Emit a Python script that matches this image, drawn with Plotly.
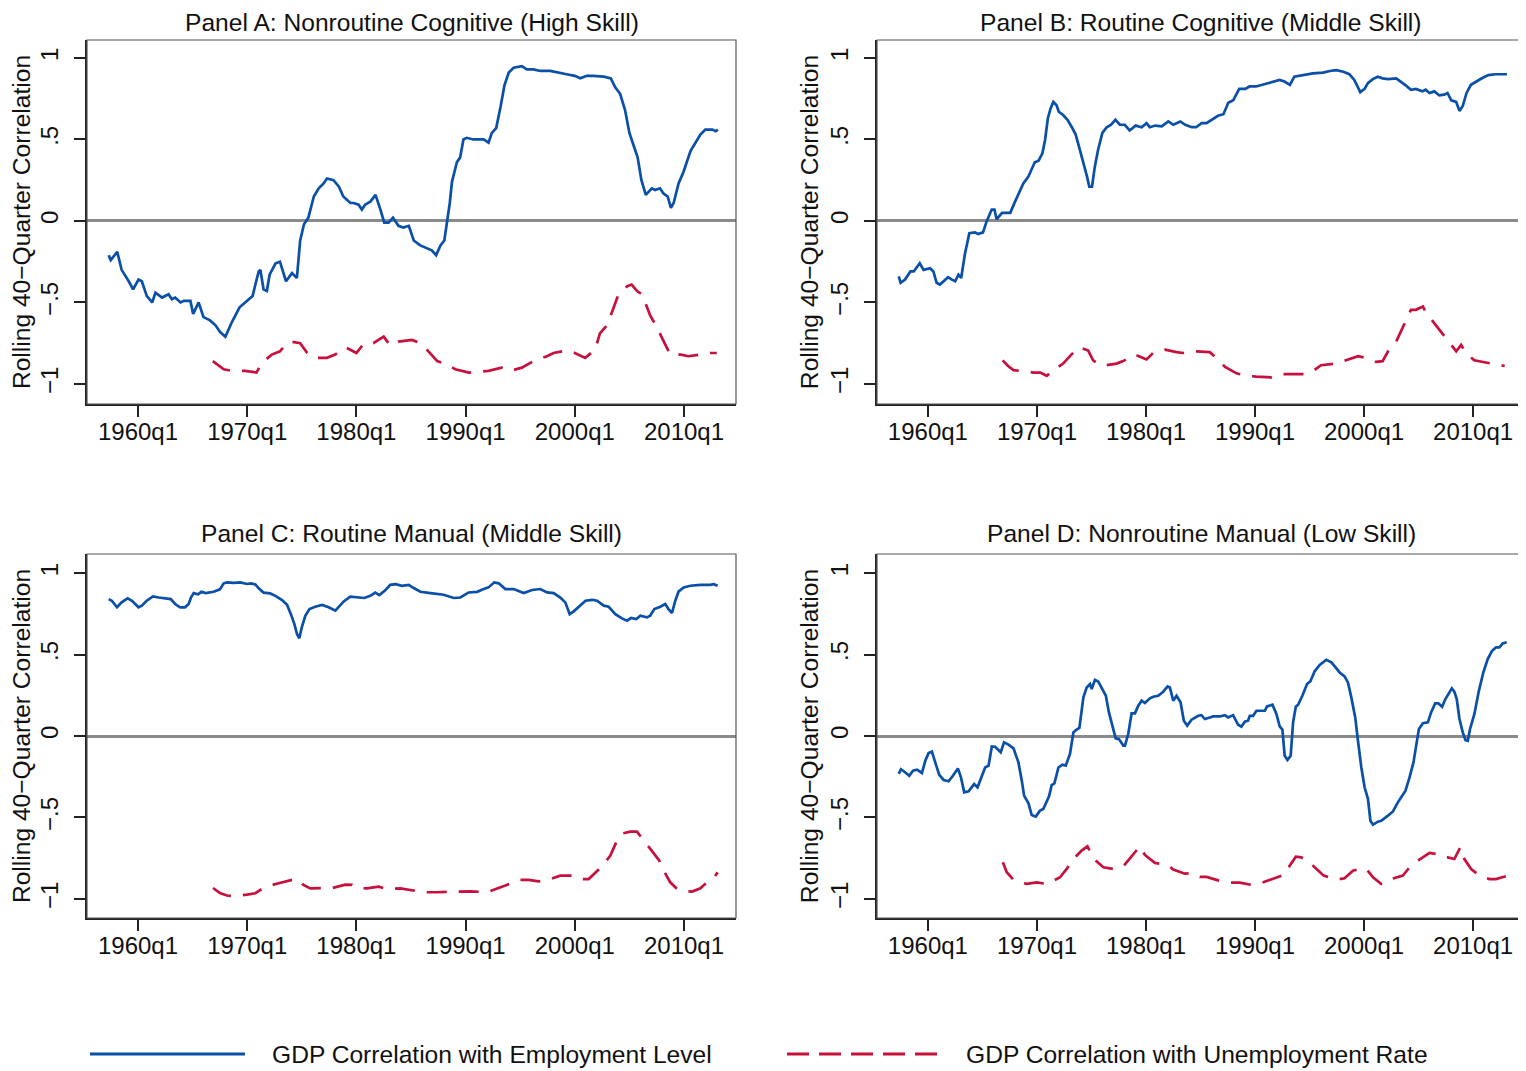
import plotly.graph_objects as go

FONT = "Liberation Sans, Arial, Helvetica, sans-serif"
BLUE = "#0a4fa8"
RED = "#c8103c"
# the page body has an 8px margin, so the figure is 8px smaller than the window
PAD = 8
W, H = 1526 - PAD, 1071 - PAD

TICK_YEARS = [1960, 1970, 1980, 1990, 2000, 2010]
TICK_TEXT = ["1960q1", "1970q1", "1980q1", "1990q1", "2000q1", "2010q1"]
Y_TICKS = [-1, -0.5, 0, 0.5, 1]
Y_TEXT = ["\u22121", "\u2212.5", "0", ".5", "1"]

TITLES = [
    "Panel A: Nonroutine Cognitive (High Skill)",
    "Panel B: Routine Cognitive (Middle Skill)",
    "Panel C: Routine Manual (Middle Skill)",
    "Panel D: Nonroutine Manual (Low Skill)",
]
LEGEND_NAMES = ["GDP Correlation with Employment Level",
                "GDP Correlation with Unemployment Rate"]

# Panel A - employment level
a_emp_t = [1957.32, 1957.5, 1958.1, 1958.5, 1959.15, 1959.55, 1960.05, 1960.35, 1960.8, 1961.3,
           1961.6, 1962.2, 1962.8, 1963.1, 1963.4, 1963.9, 1964.2, 1964.8, 1965.05, 1965.55,
           1966.0, 1966.6, 1967.1, 1967.5, 1968.0, 1968.6, 1969.3, 1969.8, 1970.5, 1970.75,
           1971.05, 1971.2, 1971.5, 1971.8, 1972.05, 1972.6, 1973.0, 1973.55, 1974.1, 1974.55,
           1974.85, 1975.2, 1975.6, 1976.1, 1976.55, 1977.0, 1977.3, 1977.9, 1978.4, 1978.8,
           1979.45, 1979.75, 1980.2, 1980.5, 1980.8, 1981.3, 1981.75, 1982.2, 1982.55, 1982.95,
           1983.35, 1983.85, 1984.3, 1984.8, 1985.25, 1985.85, 1986.45, 1986.9, 1987.3, 1987.7,
           1988.05, 1988.3, 1988.55, 1988.75, 1989.2, 1989.5, 1989.8, 1990.1, 1990.7, 1991.65,
           1992.1, 1992.4, 1992.8, 1993.2, 1993.55, 1993.95, 1994.4, 1995.15, 1995.6, 1996.2,
           1996.85, 1997.75, 1998.65, 1999.25, 2000.0, 2000.5, 2001.1, 2001.7, 2002.65, 2003.3,
           2003.7, 2004.15, 2004.6, 2005.0, 2005.4, 2005.75, 2006.1, 2006.5, 2007.05, 2007.35,
           2007.8, 2008.1, 2008.5, 2008.8, 2009.05, 2009.5, 2009.95, 2010.6, 2011.05, 2011.5,
           2011.95, 2012.6, 2012.9, 2013.1]
a_emp_v = [-0.21, -0.24, -0.19, -0.30, -0.37, -0.42, -0.36, -0.37, -0.46, -0.50,
           -0.44, -0.47, -0.45, -0.48, -0.47, -0.50, -0.49, -0.49, -0.57, -0.50,
           -0.59, -0.61, -0.64, -0.68, -0.71, -0.62, -0.53, -0.50, -0.46, -0.39,
           -0.31, -0.30, -0.42, -0.43, -0.33, -0.26, -0.25, -0.37, -0.32, -0.35,
           -0.12, -0.02, 0.02, 0.15, 0.20, 0.23, 0.26, 0.25, 0.21, 0.15,
           0.11, 0.11, 0.10, 0.07, 0.10, 0.12, 0.16, 0.07, -0.01, -0.01,
           0.02, -0.03, -0.04, -0.03, -0.12, -0.15, -0.17, -0.18, -0.21, -0.15,
           -0.12, -0.01, 0.11, 0.24, 0.36, 0.39, 0.50, 0.51, 0.50, 0.50,
           0.48, 0.54, 0.57, 0.70, 0.83, 0.91, 0.94, 0.95, 0.93, 0.93,
           0.92, 0.92, 0.91, 0.90, 0.89, 0.875, 0.89, 0.89, 0.885, 0.875,
           0.82, 0.78, 0.68, 0.54, 0.46, 0.39, 0.25, 0.16, 0.20, 0.19,
           0.20, 0.17, 0.15, 0.08, 0.11, 0.23, 0.30, 0.43, 0.48, 0.53,
           0.56, 0.56, 0.55, 0.56]

# Panel A - unemployment rate
a_unemp_t = [1966.85, 1967.85, 1968.6, 1969.8, 1970.85, 1971.35, 1972.25, 1973.0, 1973.5, 1973.95,
             1974.85, 1975.5, 1976.25, 1977.3, 1978.05, 1979.0, 1980.0, 1980.65, 1981.55, 1982.5,
             1983.1, 1983.85, 1985.1, 1985.85, 1986.6, 1987.4, 1988.3, 1989.05, 1990.3, 1992.1,
             1993.3, 1994.1, 1995.15, 1996.2, 1997.45, 1998.05, 1999.3, 2000.0, 2000.95, 2001.85,
             2002.3, 2002.95, 2003.4, 2004.0, 2004.8, 2005.2, 2005.7, 2006.15, 2006.9, 2007.5,
             2008.15, 2008.75, 2009.7, 2010.4, 2011.5, 2012.4, 2013.0]
a_unemp_v = [-0.86, -0.91, -0.92, -0.92, -0.93, -0.87, -0.82, -0.80, -0.76, -0.74,
             -0.75, -0.81, -0.84, -0.84, -0.82, -0.775, -0.81, -0.755, -0.75, -0.71,
             -0.765, -0.74, -0.73, -0.75, -0.80, -0.86, -0.88, -0.91, -0.93, -0.92,
             -0.90, -0.92, -0.90, -0.86, -0.83, -0.81, -0.795, -0.81, -0.84, -0.79,
             -0.69, -0.64, -0.56, -0.45, -0.40, -0.39, -0.43, -0.45, -0.58, -0.65,
             -0.74, -0.82, -0.82, -0.83, -0.82, -0.81, -0.81]

# Panel B - employment level
b_emp_t = [1957.32, 1957.5, 1957.9, 1958.4, 1958.7, 1959.25, 1959.6, 1960.2, 1960.5, 1960.8,
           1961.1, 1961.4, 1961.85, 1962.2, 1962.5, 1962.8, 1963.05, 1963.4, 1963.8, 1964.3,
           1964.6, 1965.05, 1965.4, 1965.85, 1966.1, 1966.3, 1966.8, 1967.25, 1967.55, 1968.0,
           1968.45, 1968.75, 1969.2, 1969.5, 1969.8, 1970.15, 1970.5, 1970.75, 1971.0, 1971.25,
           1971.5, 1971.8, 1972.0, 1972.4, 1972.8, 1973.2, 1973.55, 1973.8, 1974.1, 1974.4,
           1974.6, 1974.8, 1975.05, 1975.3, 1975.6, 1976.0, 1976.4, 1976.8, 1977.2, 1977.6,
           1978.05, 1978.5, 1979.05, 1979.6, 1980.05, 1980.35, 1980.85, 1981.45, 1982.05, 1982.5,
           1983.15, 1983.6, 1984.2, 1984.6, 1985.1, 1985.55, 1986.0, 1986.6, 1987.1, 1987.55,
           1988.0, 1988.55, 1989.1, 1989.5, 1990.1, 1990.7, 1991.35, 1991.8, 1992.25, 1992.7,
           1993.2, 1993.6, 1994.1, 1994.7, 1995.3, 1996.25, 1996.85, 1997.45, 1998.1, 1998.65,
           1999.1, 1999.4, 1999.65, 2000.05, 2000.35, 2000.8, 2001.25, 2001.7, 2002.2, 2002.95,
           2003.4, 2003.85, 2004.3, 2004.75, 2005.35, 2005.65, 2006.0, 2006.45, 2006.9, 2007.35,
           2007.65, 2008.0, 2008.45, 2008.75, 2009.05, 2009.4, 2009.8, 2010.25, 2010.8, 2011.4,
           2012.05, 2012.9, 2013.1]
b_emp_v = [-0.34, -0.38, -0.36, -0.31, -0.31, -0.26, -0.30, -0.29, -0.31, -0.38,
           -0.39, -0.37, -0.345, -0.36, -0.37, -0.33, -0.35, -0.20, -0.075, -0.07,
           -0.08, -0.07, 0.0, 0.07, 0.07, 0.01, 0.05, 0.05, 0.05, 0.12,
           0.19, 0.23, 0.27, 0.31, 0.36, 0.37, 0.415, 0.50, 0.63, 0.69,
           0.73, 0.71, 0.67, 0.65, 0.62, 0.575, 0.53, 0.47, 0.40, 0.33,
           0.27, 0.21, 0.21, 0.33, 0.435, 0.54, 0.575, 0.59, 0.62, 0.59,
           0.59, 0.555, 0.585, 0.575, 0.60, 0.575, 0.585, 0.58, 0.61, 0.59,
           0.61, 0.59, 0.575, 0.575, 0.60, 0.60, 0.62, 0.645, 0.655, 0.725,
           0.74, 0.81, 0.81, 0.825, 0.825, 0.835, 0.85, 0.855, 0.865, 0.855,
           0.835, 0.885, 0.89, 0.90, 0.905, 0.91, 0.92, 0.925, 0.915, 0.90,
           0.865, 0.825, 0.79, 0.81, 0.845, 0.87, 0.885, 0.875, 0.87, 0.875,
           0.855, 0.83, 0.805, 0.81, 0.795, 0.805, 0.785, 0.795, 0.77, 0.775,
           0.785, 0.74, 0.73, 0.675, 0.705, 0.785, 0.835, 0.855, 0.875, 0.895,
           0.90, 0.90, 0.90]

# Panel B - unemployment rate
b_unemp_t = [1966.85, 1967.35, 1967.85, 1968.45, 1969.7, 1970.3, 1970.9, 1971.5, 1972.4, 1973.15,
             1973.85, 1974.7, 1975.15, 1975.8, 1976.4, 1977.3, 1977.9, 1979.0, 1980.05, 1980.65,
             1981.75, 1982.8, 1983.4, 1984.6, 1985.85, 1986.45, 1987.25, 1988.3, 1989.2, 1990.1,
             1991.5, 1992.55, 1993.3, 1994.55, 1995.45, 1996.05, 1997.45, 1998.35, 1999.45, 2000.5,
             2001.1, 2001.7, 2002.2, 2002.95, 2003.7, 2004.3, 2004.75, 2005.4, 2005.65, 2006.45,
             2007.2, 2007.65, 2008.45, 2008.9, 2009.35, 2010.1, 2011.2, 2012.35, 2012.9]
b_unemp_v = [-0.855, -0.89, -0.915, -0.92, -0.93, -0.93, -0.95, -0.915, -0.875, -0.82,
             -0.775, -0.795, -0.855, -0.885, -0.885, -0.875, -0.86, -0.82, -0.85, -0.81,
             -0.79, -0.805, -0.81, -0.80, -0.805, -0.84, -0.895, -0.935, -0.95, -0.955,
             -0.96, -0.94, -0.94, -0.94, -0.915, -0.885, -0.875, -0.855, -0.83, -0.845,
             -0.865, -0.86, -0.80, -0.74, -0.63, -0.545, -0.545, -0.525, -0.56, -0.63,
             -0.69, -0.735, -0.80, -0.76, -0.81, -0.855, -0.87, -0.885, -0.89]

# Panel C - employment level
c_emp_t = [1957.32, 1957.6, 1958.08, 1958.5, 1959.05, 1959.45, 1960.05, 1960.35, 1960.8, 1961.37,
           1961.9, 1962.5, 1963.0, 1963.4, 1963.87, 1964.3, 1964.64, 1964.85, 1965.1, 1965.5,
           1965.8, 1966.2, 1966.93, 1967.5, 1967.85, 1968.15, 1968.76, 1969.37, 1969.98, 1970.35,
           1970.75, 1971.05, 1971.5, 1972.1, 1972.58, 1973.19, 1973.65, 1974.0, 1974.32, 1974.56,
           1974.77, 1975.0, 1975.32, 1975.7, 1976.23, 1976.85, 1977.46, 1978.07, 1978.47, 1978.84,
           1979.44, 1980.05, 1980.72, 1981.27, 1981.73, 1982.1, 1982.59, 1983.1, 1983.58, 1984.18,
           1984.79, 1985.25, 1985.86, 1986.77, 1987.99, 1988.91, 1989.52, 1990.28, 1991.05, 1991.66,
           1992.1, 1992.63, 1993.03, 1993.64, 1994.4, 1995.32, 1996.08, 1996.84, 1997.45, 1998.06,
           1998.67, 1999.13, 1999.53, 1999.9, 2000.5, 2000.98, 2001.59, 2002.04, 2002.65, 2003.1,
           2003.71, 2004.32, 2004.78, 2005.14, 2005.63, 2006.0, 2006.6, 2006.9, 2007.28, 2007.83,
           2008.28, 2008.58, 2008.9, 2009.2, 2009.51, 2009.97, 2010.58, 2011.5, 2012.41, 2012.72,
           2013.08]
c_emp_v = [0.84, 0.83, 0.79, 0.82, 0.845, 0.83, 0.79, 0.80, 0.83, 0.857,
           0.85, 0.845, 0.84, 0.81, 0.79, 0.79, 0.81, 0.85, 0.877, 0.87,
           0.885, 0.877, 0.885, 0.90, 0.937, 0.943, 0.94, 0.943, 0.933, 0.937,
           0.93, 0.906, 0.88, 0.875, 0.86, 0.834, 0.806, 0.748, 0.687, 0.626,
           0.60, 0.667, 0.738, 0.779, 0.793, 0.804, 0.79, 0.769, 0.80, 0.826,
           0.855, 0.85, 0.847, 0.86, 0.88, 0.865, 0.891, 0.928, 0.932, 0.922,
           0.928, 0.908, 0.885, 0.877, 0.867, 0.847, 0.85, 0.881, 0.885, 0.902,
           0.912, 0.943, 0.937, 0.902, 0.902, 0.877, 0.896, 0.902, 0.881, 0.877,
           0.85, 0.82, 0.748, 0.765, 0.80, 0.83, 0.836, 0.83, 0.80, 0.793,
           0.748, 0.722, 0.708, 0.724, 0.718, 0.738, 0.728, 0.738, 0.779, 0.793,
           0.81, 0.779, 0.755, 0.83, 0.888, 0.912, 0.922, 0.928, 0.928, 0.932,
           0.922]

# Panel C - unemployment rate
c_unemp_t = [1966.87, 1967.54, 1968.15, 1968.76, 1969.98, 1970.75, 1971.2, 1971.81, 1972.88, 1973.65,
             1974.41, 1974.72, 1975.11, 1975.78, 1976.7, 1977.77, 1978.99, 1979.6, 1980.05, 1980.97,
             1982.04, 1982.8, 1984.02, 1985.25, 1986.16, 1987.38, 1988.6, 1990.43, 1991.96, 1992.88,
             1993.64, 1994.4, 1995.0, 1995.78, 1996.69, 1997.75, 1998.67, 1999.74, 2000.5, 2001.27,
             2001.88, 2002.49, 2003.25, 2003.86, 2004.41, 2005.08, 2005.69, 2006.36, 2007.16, 2007.74,
             2008.14, 2008.74, 2009.36, 2009.97, 2010.74, 2011.5, 2012.1, 2012.72, 2013.08]
c_unemp_v = [-0.933, -0.965, -0.979, -0.983, -0.973, -0.965, -0.945, -0.923, -0.904, -0.892,
             -0.878, -0.883, -0.912, -0.935, -0.935, -0.933, -0.912, -0.914, -0.933, -0.935,
             -0.925, -0.939, -0.935, -0.949, -0.959, -0.959, -0.955, -0.953, -0.959, -0.939,
             -0.918, -0.898, -0.883, -0.883, -0.892, -0.878, -0.857, -0.857, -0.878, -0.878,
             -0.837, -0.80, -0.734, -0.643, -0.597, -0.587, -0.587, -0.643, -0.714, -0.766,
             -0.827, -0.898, -0.939, -0.953, -0.955, -0.935, -0.898, -0.872, -0.837]

# Panel D - employment level
d_emp_t = [1957.32, 1957.53, 1957.93, 1958.29, 1958.63, 1959.0, 1959.45, 1959.76, 1960.06, 1960.37,
           1960.67, 1961.04, 1961.44, 1961.9, 1962.29, 1962.75, 1963.03, 1963.33, 1963.73, 1964.24,
           1964.55, 1964.95, 1965.25, 1965.56, 1965.86, 1966.16, 1966.68, 1966.98, 1967.39, 1967.85,
           1968.3, 1968.61, 1968.82, 1969.22, 1969.52, 1969.89, 1970.28, 1970.58, 1971.11, 1971.35,
           1971.6, 1971.97, 1972.33, 1972.64, 1973.03, 1973.34, 1973.58, 1973.89, 1974.26, 1974.56,
           1974.87, 1975.02, 1975.32, 1975.62, 1975.99, 1976.32, 1976.6, 1976.85, 1977.22, 1977.52,
           1977.92, 1978.07, 1978.37, 1978.68, 1978.99, 1979.29, 1979.6, 1979.9, 1980.36, 1980.66,
           1981.12, 1981.58, 1981.98, 1982.19, 1982.5, 1982.8, 1983.17, 1983.47, 1983.78, 1984.18,
           1984.79, 1985.09, 1985.4, 1985.86, 1986.16, 1986.77, 1987.23, 1987.53, 1987.99, 1988.45,
           1988.75, 1989.06, 1989.36, 1989.52, 1989.82, 1990.13, 1990.59, 1990.9, 1991.1, 1991.6,
           1991.96, 1992.26, 1992.51, 1992.72, 1992.97, 1993.27, 1993.49, 1993.74, 1993.95, 1994.34,
           1994.77, 1995.07, 1995.47, 1995.93, 1996.54, 1997.0, 1997.39, 1997.76, 1998.21, 1998.52,
           1998.83, 1999.19, 1999.44, 1999.75, 2000.05, 2000.36, 2000.58, 2000.82, 2001.27, 2001.58,
           2002.19, 2002.65, 2003.1, 2003.8, 2004.17, 2004.53, 2004.78, 2005.03, 2005.4, 2005.85,
           2006.15, 2006.52, 2006.82, 2007.16, 2007.46, 2007.77, 2008.05, 2008.28, 2008.5, 2008.75,
           2009.05, 2009.3, 2009.51, 2009.72, 2010.12, 2010.52, 2010.94, 2011.34, 2011.74, 2012.1,
           2012.41, 2012.72, 2013.08]
d_emp_v = [-0.233, -0.204, -0.224, -0.244, -0.213, -0.207, -0.227, -0.152, -0.105, -0.096,
           -0.162, -0.239, -0.27, -0.278, -0.244, -0.199, -0.254, -0.346, -0.34, -0.295,
           -0.315, -0.25, -0.193, -0.182, -0.064, -0.066, -0.10, -0.039, -0.053, -0.076,
           -0.162, -0.274, -0.366, -0.413, -0.485, -0.495, -0.458, -0.448, -0.37, -0.301,
           -0.291, -0.193, -0.176, -0.182, -0.11, 0.022, 0.037, 0.049, 0.237, 0.298,
           0.319, 0.288, 0.345, 0.335, 0.288, 0.247, 0.145, 0.074, -0.015, -0.019,
           -0.059, -0.059, 0.012, 0.139, 0.139, 0.186, 0.217, 0.202, 0.231, 0.241,
           0.247, 0.272, 0.304, 0.298, 0.217, 0.247, 0.207, 0.094, 0.064, 0.10,
           0.124, 0.128, 0.104, 0.114, 0.12, 0.12, 0.128, 0.114, 0.128, 0.069,
           0.057, 0.088, 0.094, 0.124, 0.124, 0.155, 0.155, 0.155, 0.182, 0.192,
           0.135, 0.059, 0.039, -0.121, -0.147, -0.121, 0.084, 0.18, 0.192, 0.247,
           0.319, 0.335, 0.397, 0.436, 0.468, 0.452, 0.421, 0.39, 0.366, 0.329,
           0.237, 0.114, -0.029, -0.193, -0.315, -0.387, -0.52, -0.544, -0.526, -0.52,
           -0.489, -0.463, -0.407, -0.336, -0.254, -0.162, -0.059, 0.043, 0.078, 0.084,
           0.145, 0.20, 0.20, 0.18, 0.227, 0.258, 0.292, 0.272, 0.227, 0.104,
           0.022, -0.025, -0.029, 0.043, 0.135, 0.274, 0.391, 0.472, 0.523, 0.544,
           0.544, 0.568, 0.575]

# Panel D - unemployment rate
d_unemp_t = [1966.87, 1967.23, 1967.85, 1969.07, 1969.98, 1970.9, 1972.12, 1972.73, 1973.34, 1974.1,
             1974.63, 1974.87, 1975.23, 1976.09, 1977.0, 1977.92, 1978.77, 1979.44, 1979.9, 1980.82,
             1982.04, 1982.5, 1983.56, 1984.18, 1984.94, 1985.55, 1986.62, 1987.68, 1988.6, 1989.67,
             1990.74, 1991.66, 1992.72, 1993.18, 1993.74, 1994.25, 1994.87, 1995.47, 1996.3, 1997.45,
             1998.21, 1998.98, 1999.59, 2000.2, 2000.82, 2001.58, 2002.19, 2002.8, 2003.56, 2004.17,
             2005.15, 2006.0, 2006.6, 2007.22, 2007.68, 2008.28, 2008.58, 2008.83, 2009.2, 2009.82,
             2010.58, 2011.5, 2012.1, 2013.0]
d_unemp_v = [-0.775, -0.836, -0.883, -0.908, -0.898, -0.908, -0.867, -0.816, -0.755, -0.703,
             -0.677, -0.709, -0.755, -0.806, -0.816, -0.80, -0.734, -0.677, -0.73, -0.779,
             -0.791, -0.82, -0.845, -0.841, -0.865, -0.865, -0.886, -0.90, -0.90, -0.914,
             -0.898, -0.878, -0.851, -0.796, -0.741, -0.745, -0.765, -0.806, -0.857, -0.882,
             -0.873, -0.827, -0.816, -0.816, -0.867, -0.908, -0.898, -0.871, -0.857, -0.806,
             -0.755, -0.718, -0.724, -0.745, -0.745, -0.755, -0.714, -0.683, -0.755, -0.816,
             -0.857, -0.878, -0.878, -0.861]

PANELS = [
    (a_emp_t, a_emp_v, a_unemp_t, a_unemp_v),
    (b_emp_t, b_emp_v, b_unemp_t, b_unemp_v),
    (c_emp_t, c_emp_v, c_unemp_t, c_unemp_v),
    (d_emp_t, d_emp_v, d_unemp_t, d_unemp_v),
]

# plot-area boxes in window pixels (left, right, top, bottom)
BOXES = [(87, 736, 40, 404), (877, 1525, 40, 404),
         (87, 736, 554, 918), (877, 1525, 554, 918)]
X_RANGE = [1955.33, 2014.76]
Y_RANGES = [[-1.123, 1.110], [-1.123, 1.110], [-1.117, 1.117], [-1.117, 1.117]]


def px(x):
    return (x - PAD) / W


def py(y):
    return 1 - (y - PAD) / H


fig = go.Figure()
layout = dict(
    width=W, height=H, margin=dict(l=0, r=0, t=0, b=0),
    paper_bgcolor="white", plot_bgcolor="white",
    font=dict(family=FONT, size=24, color="#111"),
    showlegend=False,
)
annotations, shapes = [], []

for i, (et, ev, ut, uv) in enumerate(PANELS):
    n = "" if i == 0 else str(i + 1)
    left, right, top, bottom = BOXES[i]
    fig.add_trace(go.Scatter(x=et, y=ev, mode="lines", xaxis="x" + n, yaxis="y" + n,
                             line=dict(color=BLUE, width=2.7), hoverinfo="skip"))
    fig.add_trace(go.Scatter(x=ut, y=uv, mode="lines", xaxis="x" + n, yaxis="y" + n,
                             line=dict(color=RED, width=2.7, dash="20px,12px"),
                             hoverinfo="skip"))
    layout["xaxis" + n] = dict(
        domain=[px(left), min(px(right), 1)], range=X_RANGE, anchor="y" + n,
        tickvals=TICK_YEARS, ticktext=TICK_TEXT, ticks="outside", ticklen=11,
        tickwidth=2, tickcolor="#222", showline=True, linewidth=2, linecolor="#222",
        showgrid=False, zeroline=False, tickfont=dict(size=24), ticklabelstandoff=-6,
    )
    layout["yaxis" + n] = dict(
        domain=[py(bottom), py(top)], range=Y_RANGES[i], anchor="x" + n,
        tickvals=Y_TICKS, ticktext=Y_TEXT, tickangle=-90, ticks="outside", ticklen=11,
        tickwidth=2, tickcolor="#222", showline=True, linewidth=2, linecolor="#222",
        showgrid=False, zeroline=True, zerolinecolor="#8a8a8a", zerolinewidth=2.6,
        tickfont=dict(size=24), ticklabelstandoff=6,
        title=dict(text="Rolling 40\u2212Quarter Correlation", font=dict(size=24.6), standoff=1),
    )
    shapes.append(dict(type="rect", xref="x" + n + " domain", yref="y" + n + " domain",
                       x0=0, x1=1, y0=0, y1=1, line=dict(color="#555", width=1.2),
                       layer="above"))
    # top-row titles sit against the page edge, so anchor them to it
    if top < 100:
        title_pos = dict(y=1, yanchor="top")
    else:
        title_pos = dict(y=py(top - 21), yanchor="middle")
    annotations.append(dict(text=TITLES[i], xref="x" + n + " domain", x=0.5,
                            yref="paper", showarrow=False, borderpad=0,
                            font=dict(size=24.6), **title_pos))

# legend row drawn below the panels
LEG_Y = py(1054)
shapes.append(dict(type="line", xref="paper", yref="paper", x0=px(90), x1=px(245),
                   y0=LEG_Y, y1=LEG_Y, line=dict(color=BLUE, width=3)))
shapes.append(dict(type="line", xref="paper", yref="paper", x0=px(787), x1=px(940),
                   y0=LEG_Y, y1=LEG_Y, line=dict(color=RED, width=3, dash="22px,10px")))
annotations.append(dict(text=LEGEND_NAMES[0], xref="paper", yref="paper", x=px(270),
                        y=LEG_Y, xanchor="left", yanchor="middle", showarrow=False,
                        font=dict(size=24.6)))
annotations.append(dict(text=LEGEND_NAMES[1], xref="paper", yref="paper", x=px(964),
                        y=LEG_Y, xanchor="left", yanchor="middle", showarrow=False,
                        font=dict(size=24.6)))

layout["annotations"] = annotations
layout["shapes"] = shapes
fig.update_layout(**layout)
fig.write_html("out.html")
